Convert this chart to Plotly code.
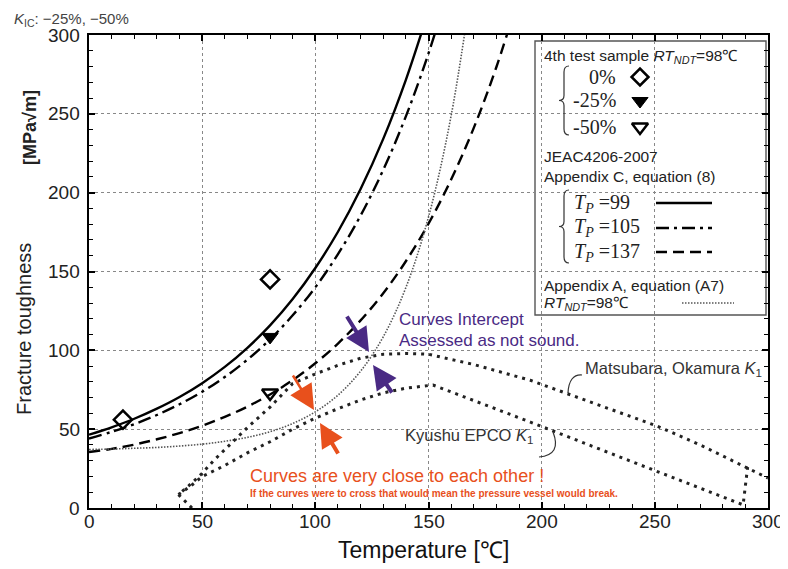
import plotly.graph_objects as go

# ---------------- data ----------------
tp99_T = [0, 10, 20, 30, 40, 50, 60, 70, 80, 90, 100, 110, 120, 130, 140, 150]
tp99_K = [46.5, 51.2, 56.6, 63.0, 70.4, 79.2, 89.5, 101.6, 115.8, 132.5, 152.2, 175.2, 202.3, 234.1, 271.6, 315.4]

tp105_T = [0, 10, 20, 30, 40, 50, 60, 70, 80, 90, 100, 110, 120, 130, 140, 150, 160]
tp105_K = [44.1, 48.3, 53.2, 59.0, 65.8, 73.7, 83.1, 94.1, 107.0, 122.2, 140.0, 161.0, 185.5, 214.4, 248.4, 288.3, 335.0]

tp137_T = [0, 10, 20, 30, 40, 50, 60, 70, 80, 90, 100, 110, 120, 130, 140, 150, 160, 170, 180, 190]
tp137_K = [35.5, 37.5, 40.2, 43.6, 47.5, 52.2, 57.8, 64.3, 72.0, 81.1, 91.8, 104.3, 119.0, 136.2, 156.5, 180.3, 208.3, 241.1, 279.7, 325.1]

appA_T = [0, 10, 20, 30, 40, 50, 60, 70, 80, 90, 100, 110, 120, 130, 140, 150, 160, 170]
appA_K = [37.1, 37.4, 37.9, 38.4, 39.3, 40.5, 42.3, 44.8, 48.4, 53.6, 61.0, 71.6, 86.8, 108.6, 139.8, 184.6, 248.8, 340.6]

mats_T = [45.5, 39.5, 44, 50, 55, 60, 70, 80, 90, 100, 110, 120, 130, 140, 150, 170, 195, 220, 251, 270, 289, 300]
mats_K = [0, 8.5, 14, 22, 30, 37, 51, 64, 79, 85, 90.5, 95, 97.5, 98, 97.5, 91, 81, 68, 52, 40, 27, 19]

kyu_T = [39.5, 45, 50, 60, 70, 80, 90, 100, 110, 120, 130, 140, 152, 175, 195, 220, 251, 270, 289, 291]
kyu_K = [8.5, 14, 20, 27, 35, 42, 50, 57, 63, 68.5, 73, 76, 78, 65.5, 54.5, 40.5, 23, 12.5, 2, 26]

s0_T, s0_K = [15, 80], [56, 145]      # 0%
s25_T, s25_K = [80], [108.5]          # -25%
s50_T, s50_K = [80], [73]             # -50%

x_ticks = [0, 50, 100, 150, 200, 250, 300]
y_ticks = [0, 50, 100, 150, 200, 250, 300]
x_tick_labels = ["0", "50", "100", "150", "200", "250", "300"]
y_tick_labels = ["0", "50", "100", "150", "200", "250", "300"]

# ---------------- layout helpers ----------------
# target plot-area position on screen (page has an 8px body margin)
OFF = 8
L, R, T, B = 89, 768, 35, 508
W, H = R - L, B - T
FIG_W, FIG_H = 788, 569


def P(px, py):
    return (px - L) / W, (B - py) / H


def D(px, py):
    return (px - L) / W * 300, (B - py) / H * 300


SANS = "Liberation Sans, Arial, sans-serif"
SERIF = "Liberation Serif, Times New Roman, serif"
PURPLE = "#4a2a84"
ORANGE = "#e8501c"

fig = go.Figure()

lw = 2.4
fig.add_trace(go.Scatter(x=tp99_T, y=tp99_K, mode="lines", line=dict(color="black", width=lw, shape="spline")))
fig.add_trace(go.Scatter(x=tp105_T, y=tp105_K, mode="lines",
                         line=dict(color="black", width=lw, shape="spline", dash="13px,5px,3px,5px")))
fig.add_trace(go.Scatter(x=tp137_T, y=tp137_K, mode="lines",
                         line=dict(color="black", width=lw, shape="spline", dash="11px,6px")))
fig.add_trace(go.Scatter(x=appA_T, y=appA_K, mode="lines",
                         line=dict(color="#555", width=1.6, shape="spline", dash="1.5px,1.5px")))
fig.add_trace(go.Scatter(x=mats_T, y=mats_K, mode="lines",
                         line=dict(color="#222", width=3, dash="3px,5px")))
fig.add_trace(go.Scatter(x=kyu_T, y=kyu_K, mode="lines",
                         line=dict(color="#222", width=3, dash="3px,5px")))

fig.add_trace(go.Scatter(x=s0_T, y=s0_K, mode="markers",
                         marker=dict(symbol="diamond-open", size=14, color="black", line=dict(width=2.5, color="black"))))
fig.add_trace(go.Scatter(x=s25_T, y=s25_K, mode="markers",
                         marker=dict(symbol="triangle-down", size=14, color="black", line=dict(width=1, color="black"))))
fig.add_trace(go.Scatter(x=s50_T, y=s50_K, mode="markers",
                         marker=dict(symbol="triangle-down-open", size=14, color="black", line=dict(width=2.5, color="black"))))

shapes = []
annotations = []


def text(t, px, py, size, color="#222", family=SANS, xanchor="left", yanchor="middle", angle=0):
    x, y = P(px, py)
    annotations.append(dict(text=t, x=x, y=y, xref="paper", yref="paper", showarrow=False,
                            xanchor=xanchor, yanchor=yanchor, textangle=angle,
                            font=dict(size=size, color=color, family=family)))


def arrow(tail, tip, color, width, size):
    x, y = P(*tip)
    annotations.append(dict(text="", x=x, y=y, xref="paper", yref="paper", showarrow=True,
                            ax=tail[0] - tip[0], ay=tail[1] - tip[1], arrowhead=2,
                            arrowwidth=width, arrowsize=size, arrowcolor=color))


def path(points_cmd, color="#444", width=1.3, dash="solid"):
    shapes.append(dict(type="path", xref="paper", yref="paper", path=points_cmd,
                       line=dict(color=color, width=width, dash=dash)))


def pp(px, py):
    x, y = P(px, py)
    return f"{x:.5f},{y:.5f}"


def brace(xr, ytop, ybot):
    xm = xr - 5
    xl = xr - 10
    ym = (ytop + ybot) / 2
    d = (f"M{pp(xr, ytop)} Q{pp(xm, ytop)} {pp(xm, ytop + 6)} L{pp(xm, ym - 5)} "
         f"Q{pp(xm, ym)} {pp(xl, ym)} Q{pp(xm, ym)} {pp(xm, ym + 5)} "
         f"L{pp(xm, ybot - 6)} Q{pp(xm, ybot)} {pp(xr, ybot)}")
    path(d, color="#333", width=1.2)


# tick labels (placed as text so that their distance from the axes matches)
for v, lab in zip(x_ticks, x_tick_labels):
    annotations.append(dict(text=lab, x=v, xref="x", y=P(0, 521)[1], yref="paper", showarrow=False,
                            xanchor="center", yanchor="middle", font=dict(size=19, color="#222", family=SANS)))
for v, lab in zip(y_ticks, y_tick_labels):
    annotations.append(dict(text=lab, y=v, yref="y", x=P(82, 0)[0], xref="paper", showarrow=False,
                            xanchor="right", yanchor="middle", font=dict(size=19, color="#222", family=SANS)))

# legend box (above grid, below traces)
x0, y0 = P(535, 315)
x1, y1 = P(766, 41)
shapes.append(dict(type="rect", xref="paper", yref="paper", x0=x0, y0=y0, x1=x1, y1=y1,
                   line=dict(color="#555", width=1.4), fillcolor="white", layer="between"))

text("4th test sample <i>RT</i><sub><i>NDT</i></sub>=98℃", 542, 57, 15.5)
brace(569, 66, 135)
text("0%", 618, 77, 20, family=SERIF, xanchor="right")
text("-25%", 618, 100, 20, family=SERIF, xanchor="right")
text("-50%", 618, 127, 20, family=SERIF, xanchor="right")
text("JEAC4206-2007", 542, 156, 15.5)
text("Appendix C, equation (8)", 542, 176, 15.5)
brace(569, 190, 263)
text("<i>T</i><sub><i>P</i></sub> =99", 572, 203, 20, family=SERIF)
text("<i>T</i><sub><i>P</i></sub> =105", 572, 228, 20, family=SERIF)
text("<i>T</i><sub><i>P</i></sub> =137", 572, 252, 20, family=SERIF)
text("Appendix A, equation (A7)", 542, 285, 15.5)
text("<i>RT</i><sub><i>NDT</i></sub>=98℃", 542, 303, 15.5)

for py, dash, w, col in [(203, "solid", 2.4, "black"), (228, "13px,5px,3px,5px", 2.4, "black"),
                         (252, "11px,6px", 2.4, "black"), (303, "1.5px,1.5px", 1.6, "#555")]:
    ax0, ay0 = P(656 if py < 300 else 682, py)
    ax1, ay1 = P(712 if py < 300 else 734, py)
    shapes.append(dict(type="line", xref="paper", yref="paper", x0=ax0, y0=ay0, x1=ax1, y1=ay1,
                       line=dict(color=col, width=w, dash=dash), layer="above"))

# legend glyphs
gx = D(640, 77)[0]
fig.add_trace(go.Scatter(x=[gx], y=[D(640, 77)[1]], mode="markers", cliponaxis=False,
                         marker=dict(symbol="diamond-open", size=13, color="black", line=dict(width=2.5, color="black"))))
fig.add_trace(go.Scatter(x=[gx], y=[D(640, 101)[1]], mode="markers", cliponaxis=False,
                         marker=dict(symbol="triangle-down", size=14, color="black", line=dict(width=1, color="black"))))
fig.add_trace(go.Scatter(x=[gx], y=[D(640, 127)[1]], mode="markers", cliponaxis=False,
                         marker=dict(symbol="triangle-down-open", size=14, color="black", line=dict(width=2.5, color="black"))))

# curve labels + leaders
text("Matsubara, Okamura <i>K</i><sub>1</sub>", 583, 369, 16.5, color="#333")
path(f"M{pp(582, 375)} Q{pp(569, 374)} {pp(568, 393)}", color="#333", width=1.2)
text("Kyushu EPCO <i>K</i><sub>1</sub>", 403, 436, 16.5, color="#333")
path(f"M{pp(553, 432)} Q{pp(562, 455)} {pp(539, 457)}", color="#333", width=1.2)

# commentary
text("Curves Intercept", 397, 319, 17, color=PURPLE)
text("Assessed as not sound.", 397, 340, 17, color=PURPLE)
arrow((346, 315), (369, 352), PURPLE, 4, 1.2)
arrow((393, 394), (373, 365), PURPLE, 4, 1.2)

text("Curves are very close to each other !", 248, 476, 18, color=ORANGE)
text("<b>If the curves were to cross that would mean the pressure vessel would break.</b>", 248, 493, 10, color=ORANGE)
arrow((292, 374), (314, 410), ORANGE, 2.5, 2.0)
arrow((339, 455), (320, 423), ORANGE, 4, 1.2)

# titles
text("<i>K</i><sub>IC</sub>: −25%, −50%", 12, 19, 15, color="#444")
text("Fracture toughness", 24, 329, 20, color="#222", xanchor="center", yanchor="middle", angle=-90)
text("<b>[MPa√m]</b>", 30, 128, 18, color="#222", xanchor="center", yanchor="middle", angle=-90)
text("Temperature [℃]", 423, 550, 23, color="#111", xanchor="center")

axis_common = dict(range=[0, 300], showline=True, linecolor="black", linewidth=2, mirror="ticks",
                   ticks="inside", ticklen=6, tickwidth=1.5, tickcolor="black", showticklabels=False,
                   showgrid=True, gridcolor="#888", griddash="dot", gridwidth=1, zeroline=False,
                   minor=dict(dtick=10, ticks="inside", ticklen=4, tickwidth=1.2, tickcolor="black", showgrid=False))

fig.update_layout(
    width=FIG_W, height=FIG_H, autosize=False,
    margin=dict(l=L - OFF, r=FIG_W - (R - OFF), t=T - OFF, b=FIG_H - (B - OFF), pad=0),
    paper_bgcolor="white", plot_bgcolor="white",
    showlegend=False,
    xaxis=dict(tickvals=x_ticks, **axis_common),
    yaxis=dict(tickvals=y_ticks, **axis_common),
    shapes=shapes, annotations=annotations,
)

fig.write_html("out.html")
